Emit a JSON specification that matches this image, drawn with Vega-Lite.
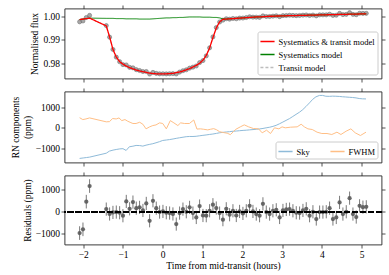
{
  "$schema": "https://vega.github.io/schema/vega-lite/v6.json",
  "padding": {"left": 9.5, "top": 3.5, "right": 0, "bottom": 2},
  "spacing": 13,
  "bounds": "flush",
  "resolve": {"scale": {"color": "independent", "strokeDash": "independent"}, "legend": {"color": "independent", "strokeDash": "independent"}},
  "config": {
    "font": "Liberation Serif",
    "view": {"stroke": "#262626", "strokeWidth": 0.9},
    "axis": {"labelFont": "Liberation Serif", "titleFont": "Liberation Serif", "labelFontSize": 9.5, "titleFontSize": 9.5, "titleFontWeight": "normal", "labelColor": "#000000", "titleColor": "#000000", "domain": false, "grid": false, "tickColor": "#262626", "tickSize": 3.5, "tickWidth": 0.8, "labelPadding": 1.5, "titlePadding": 3},
    "legend": {"labelFont": "Liberation Serif", "labelFontSize": 8.5, "labelColor": "#000000", "symbolType": "stroke", "strokeColor": "#cccccc", "fillColor": "#ffffff", "cornerRadius": 2, "padding": 2, "offset": 4, "labelOffset": 3, "rowPadding": 0}
  },
  "datasets": {
    "pts": [
      {"t":-2.09,"flux":0.99773,"model":0.9987,"sys":0.9987,"res":-970,"err":310},
      {"t":-2.006,"flux":0.9981,"model":0.9989,"sys":0.9989,"res":-800,"err":310},
      {"t":-1.922,"flux":0.99956,"model":0.9991,"sys":0.9991,"res":460,"err":310},
      {"t":-1.839,"flux":1.00047,"model":0.9993,"sys":0.9993,"res":1170,"err":310},
      {"t":-1.42,"flux":0.99612,"model":0.996,"sys":0.9992,"res":120,"err":300},
      {"t":-1.336,"flux":0.9912,"model":0.9913,"sys":0.9992,"res":-100,"err":300},
      {"t":-1.252,"flux":0.98597,"model":0.986,"sys":0.9992,"res":-30,"err":300},
      {"t":-1.168,"flux":0.98269,"model":0.9827,"sys":0.9991,"res":-15,"err":300},
      {"t":-1.084,"flux":0.98076,"model":0.9808,"sys":0.9991,"res":-45,"err":300},
      {"t":-1.001,"flux":0.97952,"model":0.9797,"sys":0.9991,"res":-180,"err":300},
      {"t":-0.917,"flux":0.97937,"model":0.9789,"sys":0.999,"res":470,"err":300},
      {"t":-0.833,"flux":0.97834,"model":0.9782,"sys":0.999,"res":135,"err":300},
      {"t":-0.749,"flux":0.97814,"model":0.9777,"sys":0.999,"res":440,"err":300},
      {"t":-0.665,"flux":0.97737,"model":0.9772,"sys":0.999,"res":165,"err":300},
      {"t":-0.582,"flux":0.977,"model":0.9768,"sys":0.9989,"res":200,"err":300},
      {"t":-0.498,"flux":0.97656,"model":0.9765,"sys":0.9989,"res":60,"err":300},
      {"t":-0.414,"flux":0.97658,"model":0.9762,"sys":0.9989,"res":380,"err":300},
      {"t":-0.33,"flux":0.97549,"model":0.9759,"sys":0.9989,"res":-410,"err":300},
      {"t":-0.246,"flux":0.9762,"model":0.9757,"sys":0.999,"res":500,"err":300},
      {"t":-0.163,"flux":0.97577,"model":0.9756,"sys":0.9991,"res":165,"err":300},
      {"t":-0.079,"flux":0.97559,"model":0.9756,"sys":0.9992,"res":-15,"err":300},
      {"t":0.005,"flux":0.97562,"model":0.9756,"sys":0.9993,"res":15,"err":300},
      {"t":0.089,"flux":0.97556,"model":0.9756,"sys":0.9994,"res":-45,"err":300},
      {"t":0.173,"flux":0.97564,"model":0.9757,"sys":0.9994,"res":-60,"err":300},
      {"t":0.256,"flux":0.9757,"model":0.9758,"sys":0.9995,"res":-100,"err":300},
      {"t":0.34,"flux":0.97554,"model":0.9761,"sys":0.9995,"res":-560,"err":300},
      {"t":0.424,"flux":0.97634,"model":0.9764,"sys":0.9996,"res":-60,"err":300},
      {"t":0.508,"flux":0.97692,"model":0.9768,"sys":0.9996,"res":120,"err":300},
      {"t":0.592,"flux":0.9773,"model":0.9773,"sys":0.9997,"res":0,"err":300},
      {"t":0.675,"flux":0.978,"model":0.9778,"sys":0.9998,"res":200,"err":300},
      {"t":0.759,"flux":0.97844,"model":0.9785,"sys":0.9998,"res":-60,"err":300},
      {"t":0.843,"flux":0.97894,"model":0.9792,"sys":0.9998,"res":-260,"err":300},
      {"t":0.927,"flux":0.98036,"model":0.9801,"sys":0.9998,"res":260,"err":300},
      {"t":1.011,"flux":0.98123,"model":0.9814,"sys":0.9997,"res":-170,"err":300},
      {"t":1.094,"flux":0.98322,"model":0.9834,"sys":0.9997,"res":-180,"err":300},
      {"t":1.178,"flux":0.98665,"model":0.9866,"sys":0.9997,"res":45,"err":300},
      {"t":1.262,"flux":0.99132,"model":0.991,"sys":0.9996,"res":320,"err":300},
      {"t":1.346,"flux":0.99527,"model":0.9951,"sys":0.9996,"res":170,"err":300},
      {"t":1.43,"flux":0.99764,"model":0.9977,"sys":0.9994,"res":-60,"err":300},
      {"t":1.513,"flux":0.99844,"model":0.9988,"sys":0.999,"res":-360,"err":300},
      {"t":1.597,"flux":0.99904,"model":0.9989,"sys":0.9989,"res":135,"err":300},
      {"t":1.681,"flux":0.99887,"model":0.999,"sys":0.999,"res":-135,"err":300},
      {"t":1.765,"flux":0.99915,"model":0.9991,"sys":0.9991,"res":45,"err":300},
      {"t":1.849,"flux":0.99903,"model":0.9992,"sys":0.9992,"res":-170,"err":300},
      {"t":1.932,"flux":0.99932,"model":0.9993,"sys":0.9993,"res":15,"err":300},
      {"t":2.016,"flux":0.99933,"model":0.9994,"sys":0.9994,"res":-75,"err":300},
      {"t":2.1,"flux":0.99955,"model":0.9995,"sys":0.9995,"res":45,"err":300},
      {"t":2.184,"flux":0.99987,"model":0.9996,"sys":0.9996,"res":270,"err":300},
      {"t":2.268,"flux":0.99972,"model":0.9997,"sys":0.9997,"res":15,"err":300},
      {"t":2.351,"flux":0.9997,"model":0.9998,"sys":0.9998,"res":-105,"err":300},
      {"t":2.435,"flux":0.99962,"model":0.9998,"sys":0.9998,"res":-180,"err":300},
      {"t":2.519,"flux":1.00026,"model":0.9999,"sys":0.9999,"res":360,"err":300},
      {"t":2.603,"flux":0.99999,"model":1.0,"sys":1.0,"res":-15,"err":300},
      {"t":2.687,"flux":1.0,"model":1.0001,"sys":1.0001,"res":-105,"err":300},
      {"t":2.77,"flux":1.00015,"model":1.0001,"sys":1.0001,"res":45,"err":300},
      {"t":2.854,"flux":1.00029,"model":1.0002,"sys":1.0002,"res":90,"err":300},
      {"t":2.938,"flux":0.99994,"model":1.0002,"sys":1.0002,"res":-260,"err":300},
      {"t":3.022,"flux":1.00036,"model":1.0003,"sys":1.0003,"res":60,"err":300},
      {"t":3.106,"flux":1.00041,"model":1.0003,"sys":1.0003,"res":105,"err":300},
      {"t":3.189,"flux":1.00052,"model":1.0004,"sys":1.0004,"res":120,"err":300},
      {"t":3.273,"flux":1.00045,"model":1.0004,"sys":1.0004,"res":45,"err":300},
      {"t":3.357,"flux":1.00036,"model":1.0004,"sys":1.0004,"res":-45,"err":300},
      {"t":3.441,"flux":1.00044,"model":1.0005,"sys":1.0005,"res":-60,"err":300},
      {"t":3.525,"flux":1.00056,"model":1.0005,"sys":1.0005,"res":60,"err":300},
      {"t":3.608,"flux":1.00064,"model":1.0005,"sys":1.0005,"res":135,"err":300},
      {"t":3.692,"flux":1.00042,"model":1.0006,"sys":1.0006,"res":-180,"err":300},
      {"t":3.776,"flux":1.0006,"model":1.0006,"sys":1.0006,"res":0,"err":300},
      {"t":3.86,"flux":1.00027,"model":1.0006,"sys":1.0006,"res":-330,"err":300},
      {"t":3.944,"flux":1.00069,"model":1.0007,"sys":1.0007,"res":-15,"err":300},
      {"t":4.027,"flux":1.00069,"model":1.0007,"sys":1.0007,"res":-15,"err":300},
      {"t":4.111,"flux":1.0007,"model":1.0007,"sys":1.0007,"res":0,"err":300},
      {"t":4.195,"flux":1.00097,"model":1.0008,"sys":1.0008,"res":165,"err":300},
      {"t":4.279,"flux":1.00047,"model":1.0008,"sys":1.0008,"res":-330,"err":300},
      {"t":4.363,"flux":1.00054,"model":1.0008,"sys":1.0008,"res":-260,"err":300},
      {"t":4.446,"flux":1.00133,"model":1.0009,"sys":1.0009,"res":425,"err":300},
      {"t":4.53,"flux":1.0008,"model":1.0009,"sys":1.0009,"res":-105,"err":300},
      {"t":4.614,"flux":1.0009,"model":1.0009,"sys":1.0009,"res":0,"err":300},
      {"t":4.698,"flux":1.00162,"model":1.001,"sys":1.001,"res":620,"err":300},
      {"t":4.782,"flux":1.0009,"model":1.001,"sys":1.001,"res":-105,"err":300},
      {"t":4.865,"flux":1.00076,"model":1.001,"sys":1.001,"res":-240,"err":300},
      {"t":4.949,"flux":1.00137,"model":1.0011,"sys":1.0011,"res":270,"err":300},
      {"t":5.033,"flux":1.00131,"model":1.0011,"sys":1.0011,"res":210,"err":300},
      {"t":5.117,"flux":1.00133,"model":1.0011,"sys":1.0011,"res":225,"err":300}
    ],
    "rn": [
      {"t":-2.09,"val":-1483,"comp":"Sky"},{"t":-2.0,"val":-1460,"comp":"Sky"},{"t":-1.92,"val":-1440,"comp":"Sky"},{"t":-1.84,"val":-1420,"comp":"Sky"},
      {"t":-1.42,"val":-1230,"comp":"Sky"},{"t":-1.34,"val":-1128,"comp":"Sky"},{"t":-1.25,"val":-1080,"comp":"Sky"},{"t":-1.17,"val":-1050,"comp":"Sky"},
      {"t":-1.08,"val":-1020,"comp":"Sky"},{"t":-1.0,"val":-1010,"comp":"Sky"},{"t":-0.92,"val":-1096,"comp":"Sky"},{"t":-0.84,"val":-918,"comp":"Sky"},
      {"t":-0.75,"val":-890,"comp":"Sky"},{"t":-0.67,"val":-854,"comp":"Sky"},{"t":-0.58,"val":-860,"comp":"Sky"},{"t":-0.5,"val":-886,"comp":"Sky"},
      {"t":-0.42,"val":-840,"comp":"Sky"},{"t":-0.34,"val":-805,"comp":"Sky"},{"t":-0.25,"val":-770,"comp":"Sky"},{"t":-0.17,"val":-725,"comp":"Sky"},
      {"t":-0.08,"val":-670,"comp":"Sky"},{"t":0.0,"val":-612,"comp":"Sky"},{"t":0.09,"val":-590,"comp":"Sky"},{"t":0.17,"val":-570,"comp":"Sky"},
      {"t":0.26,"val":-540,"comp":"Sky"},{"t":0.34,"val":-510,"comp":"Sky"},{"t":0.42,"val":-483,"comp":"Sky"},{"t":0.51,"val":-455,"comp":"Sky"},
      {"t":0.59,"val":-430,"comp":"Sky"},{"t":0.67,"val":-419,"comp":"Sky"},{"t":0.76,"val":-420,"comp":"Sky"},{"t":0.84,"val":-410,"comp":"Sky"},
      {"t":0.93,"val":-385,"comp":"Sky"},{"t":1.01,"val":-365,"comp":"Sky"},{"t":1.09,"val":-345,"comp":"Sky"},{"t":1.18,"val":-320,"comp":"Sky"},
      {"t":1.26,"val":-300,"comp":"Sky"},{"t":1.35,"val":-270,"comp":"Sky"},{"t":1.43,"val":-240,"comp":"Sky"},{"t":1.51,"val":-220,"comp":"Sky"},
      {"t":1.6,"val":-200,"comp":"Sky"},{"t":1.68,"val":-185,"comp":"Sky"},{"t":1.77,"val":-165,"comp":"Sky"},{"t":1.85,"val":-155,"comp":"Sky"},
      {"t":1.93,"val":-140,"comp":"Sky"},{"t":2.02,"val":-125,"comp":"Sky"},{"t":2.1,"val":-115,"comp":"Sky"},{"t":2.18,"val":-100,"comp":"Sky"},
      {"t":2.27,"val":-85,"comp":"Sky"},{"t":2.35,"val":-70,"comp":"Sky"},{"t":2.43,"val":-55,"comp":"Sky"},{"t":2.52,"val":-30,"comp":"Sky"},
      {"t":2.6,"val":0,"comp":"Sky"},{"t":2.69,"val":30,"comp":"Sky"},{"t":2.77,"val":70,"comp":"Sky"},{"t":2.85,"val":120,"comp":"Sky"},
      {"t":2.94,"val":200,"comp":"Sky"},{"t":3.02,"val":280,"comp":"Sky"},{"t":3.1,"val":360,"comp":"Sky"},{"t":3.19,"val":450,"comp":"Sky"},
      {"t":3.27,"val":550,"comp":"Sky"},{"t":3.35,"val":650,"comp":"Sky"},{"t":3.44,"val":760,"comp":"Sky"},{"t":3.52,"val":880,"comp":"Sky"},
      {"t":3.6,"val":1030,"comp":"Sky"},{"t":3.69,"val":1210,"comp":"Sky"},{"t":3.77,"val":1380,"comp":"Sky"},{"t":3.85,"val":1500,"comp":"Sky"},
      {"t":3.94,"val":1570,"comp":"Sky"},{"t":4.02,"val":1570,"comp":"Sky"},{"t":4.1,"val":1530,"comp":"Sky"},{"t":4.19,"val":1525,"comp":"Sky"},
      {"t":4.27,"val":1535,"comp":"Sky"},{"t":4.35,"val":1530,"comp":"Sky"},{"t":4.44,"val":1520,"comp":"Sky"},{"t":4.52,"val":1505,"comp":"Sky"},
      {"t":4.6,"val":1495,"comp":"Sky"},{"t":4.69,"val":1480,"comp":"Sky"},{"t":4.77,"val":1470,"comp":"Sky"},{"t":4.86,"val":1450,"comp":"Sky"},
      {"t":4.94,"val":1420,"comp":"Sky"},{"t":5.02,"val":1405,"comp":"Sky"},{"t":5.11,"val":1400,"comp":"Sky"},
      {"t":-2.09,"val":490,"comp":"FWHM"},{"t":-2.01,"val":400,"comp":"FWHM"},{"t":-1.93,"val":430,"comp":"FWHM"},{"t":-1.84,"val":480,"comp":"FWHM"},
      {"t":-1.42,"val":290,"comp":"FWHM"},{"t":-1.34,"val":300,"comp":"FWHM"},{"t":-1.26,"val":450,"comp":"FWHM"},{"t":-1.17,"val":430,"comp":"FWHM"},
      {"t":-1.1,"val":480,"comp":"FWHM"},{"t":-1.03,"val":350,"comp":"FWHM"},{"t":-0.95,"val":400,"comp":"FWHM"},{"t":-0.88,"val":320,"comp":"FWHM"},
      {"t":-0.8,"val":250,"comp":"FWHM"},{"t":-0.75,"val":210,"comp":"FWHM"},{"t":-0.67,"val":210,"comp":"FWHM"},{"t":-0.58,"val":270,"comp":"FWHM"},
      {"t":-0.5,"val":175,"comp":"FWHM"},{"t":-0.42,"val":-50,"comp":"FWHM"},{"t":-0.33,"val":47,"comp":"FWHM"},{"t":-0.25,"val":110,"comp":"FWHM"},
      {"t":-0.17,"val":140,"comp":"FWHM"},{"t":-0.08,"val":240,"comp":"FWHM"},{"t":0.0,"val":210,"comp":"FWHM"},{"t":0.09,"val":-50,"comp":"FWHM"},
      {"t":0.19,"val":350,"comp":"FWHM"},{"t":0.28,"val":240,"comp":"FWHM"},{"t":0.38,"val":110,"comp":"FWHM"},{"t":0.45,"val":240,"comp":"FWHM"},
      {"t":0.55,"val":210,"comp":"FWHM"},{"t":0.67,"val":210,"comp":"FWHM"},{"t":0.78,"val":380,"comp":"FWHM"},{"t":0.86,"val":-60,"comp":"FWHM"},
      {"t":0.95,"val":-50,"comp":"FWHM"},{"t":1.03,"val":-70,"comp":"FWHM"},{"t":1.13,"val":-100,"comp":"FWHM"},{"t":1.2,"val":-70,"comp":"FWHM"},
      {"t":1.28,"val":-40,"comp":"FWHM"},{"t":1.35,"val":-90,"comp":"FWHM"},{"t":1.43,"val":-190,"comp":"FWHM"},{"t":1.53,"val":-230,"comp":"FWHM"},
      {"t":1.62,"val":-260,"comp":"FWHM"},{"t":1.7,"val":-330,"comp":"FWHM"},{"t":1.78,"val":-180,"comp":"FWHM"},{"t":1.83,"val":-80,"comp":"FWHM"},
      {"t":1.95,"val":47,"comp":"FWHM"},{"t":2.05,"val":143,"comp":"FWHM"},{"t":2.16,"val":47,"comp":"FWHM"},{"t":2.28,"val":-34,"comp":"FWHM"},
      {"t":2.41,"val":-50,"comp":"FWHM"},{"t":2.5,"val":-243,"comp":"FWHM"},{"t":2.61,"val":-115,"comp":"FWHM"},{"t":2.71,"val":-275,"comp":"FWHM"},
      {"t":2.81,"val":0,"comp":"FWHM"},{"t":2.92,"val":-50,"comp":"FWHM"},{"t":3.0,"val":47,"comp":"FWHM"},{"t":3.08,"val":0,"comp":"FWHM"},
      {"t":3.21,"val":30,"comp":"FWHM"},{"t":3.3,"val":40,"comp":"FWHM"},{"t":3.38,"val":47,"comp":"FWHM"},{"t":3.48,"val":175,"comp":"FWHM"},
      {"t":3.56,"val":47,"comp":"FWHM"},{"t":3.65,"val":-50,"comp":"FWHM"},{"t":3.76,"val":-82,"comp":"FWHM"},{"t":3.88,"val":-211,"comp":"FWHM"},
      {"t":4.0,"val":-275,"comp":"FWHM"},{"t":4.13,"val":-275,"comp":"FWHM"},{"t":4.25,"val":-324,"comp":"FWHM"},{"t":4.38,"val":-211,"comp":"FWHM"},
      {"t":4.48,"val":-324,"comp":"FWHM"},{"t":4.61,"val":-163,"comp":"FWHM"},{"t":4.73,"val":-50,"comp":"FWHM"},{"t":4.84,"val":-243,"comp":"FWHM"},
      {"t":4.97,"val":-372,"comp":"FWHM"},{"t":5.11,"val":-211,"comp":"FWHM"}
    ]
  },
  "vconcat": [
    {
      "width": 317, "height": 70,
      "data": {"name": "pts"},
      "layer": [
        {
          "mark": {"type": "line", "strokeWidth": 1},
          "encoding": {
            "x": {"field": "t", "type": "quantitative", "scale": {"domain": [-2.47, 5.5], "nice": false, "zero": false}, "axis": {"values": [-2,-1,0,1,2,3,4,5], "labels": false, "title": null}},
            "y": {"field": "model", "type": "quantitative", "scale": {"domain": [0.9736, 1.0034], "nice": false, "zero": false}, "axis": {"values": [0.98, 0.99, 1.0], "format": ".2f", "title": "Normalised flux"}},
            "color": {"datum": "Transit model", "type": "nominal", "scale": {"domain": ["Systematics & transit model", "Systematics model", "Transit model"], "range": ["#ff0000", "#008000", "#bdbdbd"]}, "legend": {"title": null, "orient": "bottom-right", "symbolSize": 200}},
            "strokeDash": {"datum": "Transit model", "type": "nominal", "scale": {"domain": ["Systematics & transit model", "Systematics model", "Transit model"], "range": [[1, 0], [1, 0], [3, 2]]}, "legend": {"title": null, "orient": "bottom-right", "symbolSize": 200}}
          }
        },
        {
          "mark": {"type": "circle", "size": 17, "color": "#929292", "opacity": 0.8, "stroke": "#555555", "strokeWidth": 0.6},
          "encoding": {
            "x": {"field": "t", "type": "quantitative", "axis": {"orient": "top", "values": [-2,-1,0,1,2,3,4,5], "labels": false, "title": null}},
            "y": {"field": "flux", "type": "quantitative", "axis": {"orient": "right", "values": [0.98, 0.99, 1.0], "labels": false, "title": null}}
          }
        },
        {
          "mark": {"type": "line", "strokeWidth": 1},
          "encoding": {
            "x": {"field": "t", "type": "quantitative", "axis": null},
            "y": {"field": "sys", "type": "quantitative", "axis": null},
            "color": {"datum": "Systematics model", "type": "nominal"},
            "strokeDash": {"datum": "Systematics model", "type": "nominal"}
          }
        },
        {
          "mark": {"type": "line", "strokeWidth": 1.3},
          "encoding": {
            "x": {"field": "t", "type": "quantitative", "axis": null},
            "y": {"field": "model", "type": "quantitative", "axis": null},
            "color": {"datum": "Systematics & transit model", "type": "nominal"},
            "strokeDash": {"datum": "Systematics & transit model", "type": "nominal"}
          }
        }
      ],
      "resolve": {"axis": {"x": "independent", "y": "independent"}}
    },
    {
      "width": 317, "height": 71,
      "data": {"name": "rn"},
      "layer": [
        {
          "mark": {"type": "line", "strokeWidth": 1},
          "encoding": {
            "x": {"field": "t", "type": "quantitative", "scale": {"domain": [-2.47, 5.5], "nice": false, "zero": false}, "axis": {"values": [-2,-1,0,1,2,3,4,5], "labels": false, "title": null}},
            "y": {"field": "val", "type": "quantitative", "scale": {"domain": [-1680, 1760], "nice": false, "zero": false}, "axis": {"values": [-1000, 0, 1000], "format": "d", "title": ["RN components", "(ppm)"]}},
            "color": {"field": "comp", "type": "nominal", "scale": {"domain": ["Sky", "FWHM"], "range": ["#8fbbd9", "#ffbf86"]}, "legend": {"title": null, "orient": "bottom-right", "columns": 2, "direction": "horizontal", "gridAlign": "none", "columnPadding": 16, "symbolSize": 200}}
          }
        },
        {
          "mark": {"type": "line", "opacity": 0},
          "encoding": {
            "x": {"field": "t", "type": "quantitative", "axis": {"orient": "top", "values": [-2,-1,0,1,2,3,4,5], "labels": false, "title": null}},
            "y": {"field": "val", "type": "quantitative", "axis": {"orient": "right", "values": [-1000, 0, 1000], "labels": false, "title": null}},
            "detail": {"field": "comp"}
          }
        }
      ],
      "resolve": {"axis": {"x": "independent", "y": "independent"}}
    },
    {
      "width": 317, "height": 69,
      "data": {"name": "pts"},
      "layer": [
        {
          "mark": {"type": "errorbar", "color": "#7a7a7a", "thickness": 1},
          "encoding": {
            "x": {"field": "t", "type": "quantitative", "scale": {"domain": [-2.47, 5.5], "nice": false, "zero": false}, "axis": {"values": [-2,-1,0,1,2,3,4,5], "format": "d", "title": "Time from mid-transit (hours)", "titlePadding": 1.5}},
            "y": {"field": "res", "type": "quantitative", "scale": {"domain": [-1490, 1650], "nice": false, "zero": false}, "axis": {"values": [-1000, 0, 1000], "format": "d", "title": "Residuals (ppm)"}},
            "yError": {"field": "err"}
          }
        },
        {
          "mark": {"type": "circle", "size": 18, "color": "#5a5a5a", "opacity": 0.9},
          "encoding": {
            "x": {"field": "t", "type": "quantitative", "axis": {"orient": "top", "values": [-2,-1,0,1,2,3,4,5], "labels": false, "title": null}},
            "y": {"field": "res", "type": "quantitative", "axis": {"orient": "right", "values": [-1000, 0, 1000], "labels": false, "title": null}}
          }
        },
        {
          "mark": {"type": "rule", "color": "#000000", "strokeDash": [5.5, 2.4], "strokeWidth": 1.4},
          "encoding": {"y": {"datum": 0, "type": "quantitative", "axis": null}}
        }
      ],
      "resolve": {"axis": {"x": "independent", "y": "independent"}}
    }
  ]
}
